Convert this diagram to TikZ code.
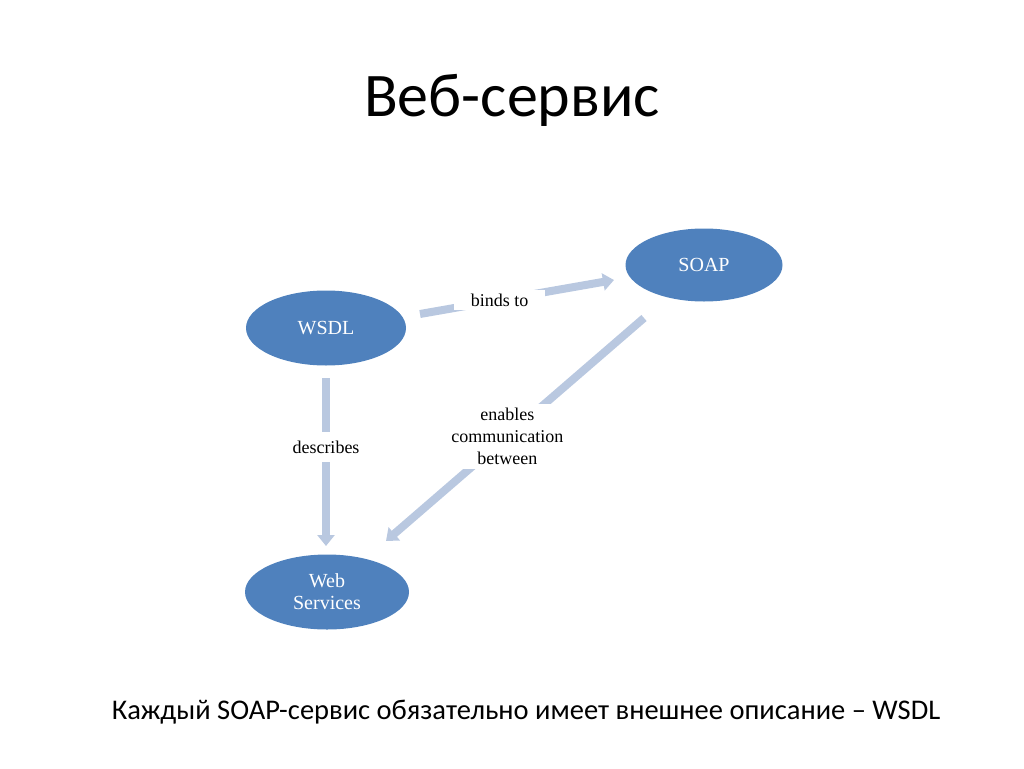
\documentclass[tikz,border=0pt]{standalone}
\usepackage{fontspec}
\setmainfont{Liberation Serif}
\newfontfamily\calib{Carlito}
\usetikzlibrary{arrows.meta,shapes.geometric}
\definecolor{nodeblue}{RGB}{79,129,189}
\definecolor{linkblue}{RGB}{185,200,224}
\begin{document}
\begin{tikzpicture}[x=1pt,y=-1pt,
  ell/.style={ellipse,fill=nodeblue,draw=none,text=white,minimum width=160pt,minimum height=75pt,inner sep=0pt,font=\fontsize{20}{22}\selectfont,align=center},
  link/.style={draw=linkblue,line width=8pt,-{Triangle[length=11pt,width=17pt]}},
  lbl/.style={fill=white,font=\fontsize{18}{22}\selectfont,align=center,inner sep=2pt}]
\useasboundingbox (0,0) rectangle (1024,768);
\node[font=\calib\fontsize{62}{64}\selectfont,anchor=base] (title) at (512,116) {Веб-сервис};
\node[ell] (wsdl) at (326,328) {WSDL};
\node[ell,minimum width=157pt,minimum height=73pt] (soap) at (704,265) {SOAP};
\node[ell,minimum width=164pt] (ws) at (327,592) {Web\\Services};
\coordinate (b1) at (420,314);
\coordinate (b2) at (614,280);
\coordinate (d1) at (326,378);
\coordinate (d2) at (326,546);
\coordinate (e1) at (644,318);
\coordinate (e2) at (386,541);
\draw[link] (b1) -- (b2) node[pos=0.41,lbl,inner xsep=17pt,inner ysep=4pt] (lb) {binds to};
\draw[link] (d1) -- (d2) node[pos=0.41,lbl,inner ysep=9pt] (ld) {describes};
\draw[link] (e1) -- (e2) node[pos=0.53,lbl,inner ysep=4pt] (le) {enables\\communication\\between};
\node[font=\calib\fontsize{28.5}{30}\selectfont,anchor=base] (cap) at (526,719) {Каждый SOAP-сервис обязательно имеет внешнее описание – WSDL};
\end{tikzpicture}
\end{document}
